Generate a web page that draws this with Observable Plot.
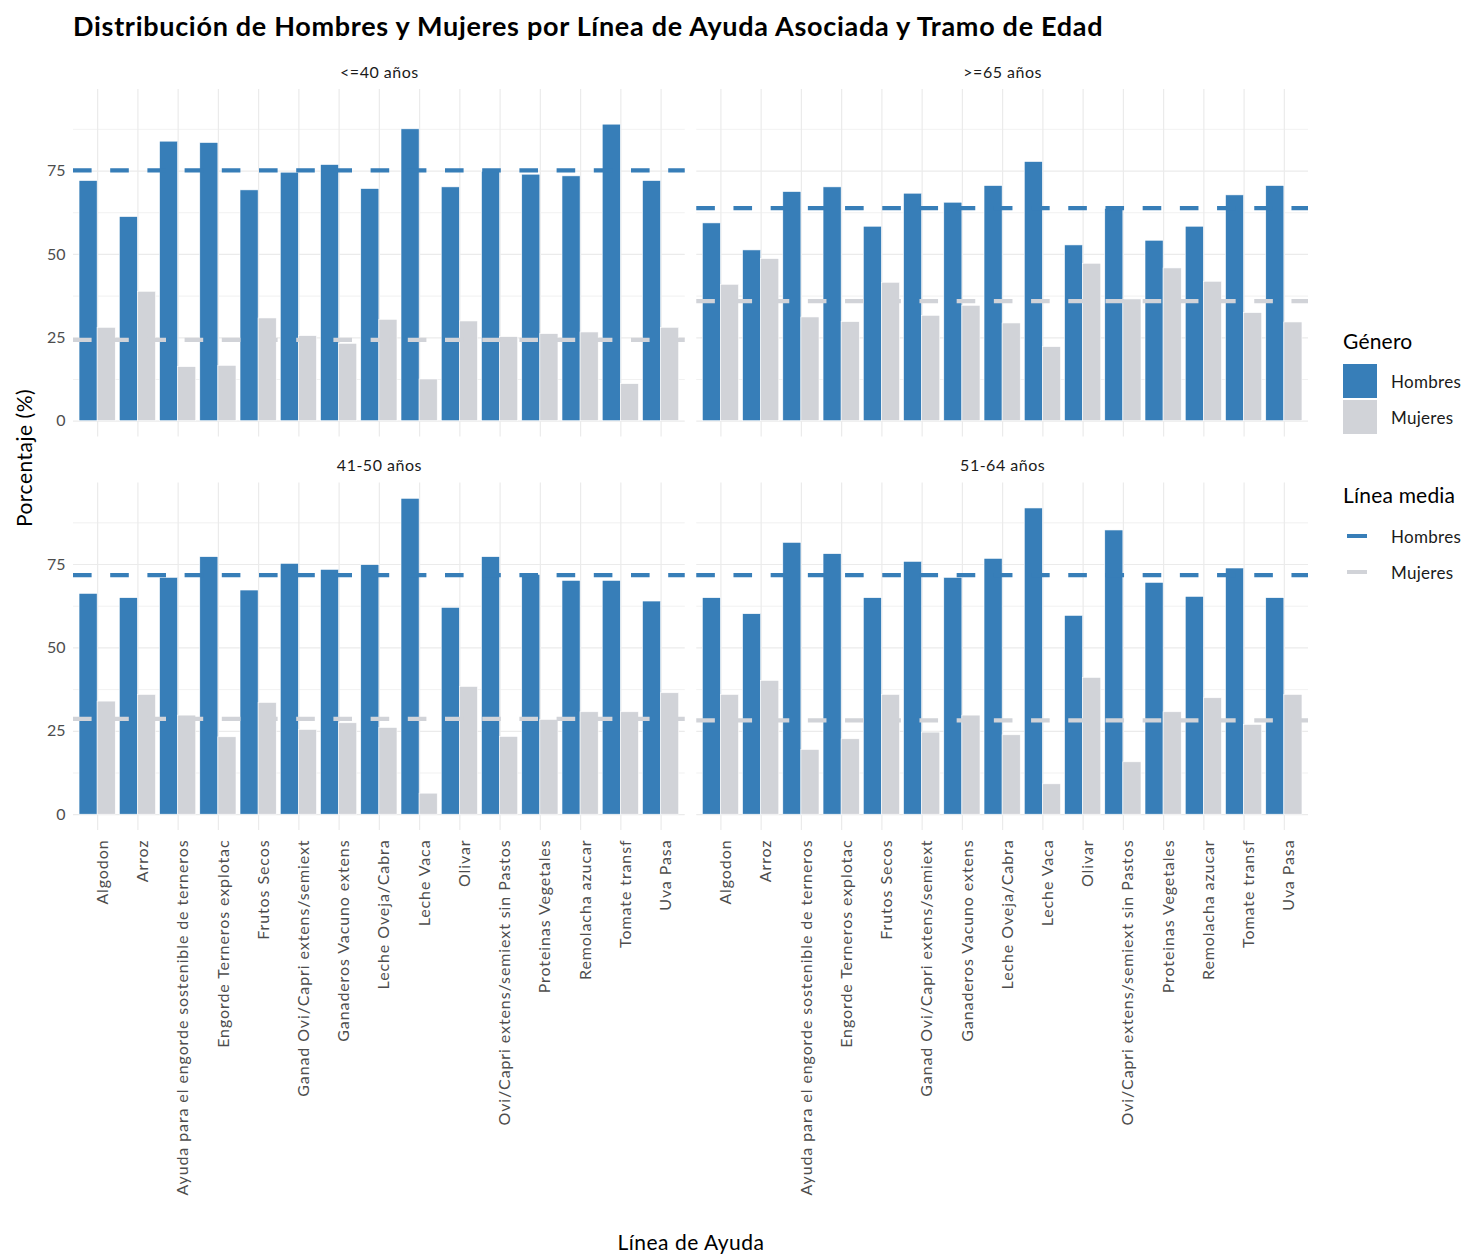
<!DOCTYPE html>
<html>
<head>
<meta charset="utf-8">
<script src="https://cdn.jsdelivr.net/npm/d3@7"></script>
<script src="https://cdn.jsdelivr.net/npm/@observablehq/plot@0.6"></script>
<style>
  body { margin: 0; background: #fff; font-family: Lato, "Noto Sans", sans-serif; }
  #wrap { position: relative; width: 1467px; height: 1256px; overflow: hidden; background: #fff; }
  #title { position: absolute; left: 73px; top: 9px; font-size: 27px; letter-spacing: 0.7px; font-weight: 700; color: #000; white-space: nowrap; }
  #chart { position: absolute; left: 0; top: 0; }
  #chart g[aria-label="x-axis tick label"] text { letter-spacing: 0.9px; }
  #chart g[aria-label="text"] text { letter-spacing: 0.5px; }
  #xlab { position: absolute; left: 691px; top: 1229px; transform: translateX(-50%); font-size: 21px; letter-spacing: 0.5px; color: #000; white-space: nowrap; }
  #ylab { position: absolute; left: 23px; top: 458px; transform: translate(-50%, -50%) rotate(-90deg); font-size: 21px; letter-spacing: 0.5px; color: #000; white-space: nowrap; }
  #legend { position: absolute; left: 1343px; top: 328px; color: #000; }
  .lt { font-size: 21px; margin-bottom: 10px; white-space: nowrap; letter-spacing: 0.2px; }
  .li { display: flex; align-items: center; height: 36px; font-size: 17px; letter-spacing: 0.3px; color: #1a1a1a; white-space: nowrap; }
  .sw { width: 34px; height: 34px; margin-right: 14px; }
  .ln { width: 20px; height: 4px; margin: 0 24px 0 4px; }
</style>
</head>
<body>
<div id="wrap">
  <div id="title">Distribución de Hombres y Mujeres por Línea de Ayuda Asociada y Tramo de Edad</div>
  <div id="chart"></div>
  <div id="xlab">Línea de Ayuda</div>
  <div id="ylab">Porcentaje (%)</div>
  <div id="legend"></div>
</div>
<script>
// ---------- DATA ----------
const categorias = [
  "Algodon", "Arroz", "Ayuda para el engorde sostenible de terneros",
  "Engorde Terneros explotac", "Frutos Secos", "Ganad Ovi/Capri extens/semiext",
  "Ganaderos Vacuno extens", "Leche Oveja/Cabra", "Leche Vaca", "Olivar",
  "Ovi/Capri extens/semiext sin Pastos", "Proteinas Vegetales", "Remolacha azucar",
  "Tomate transf", "Uva Pasa"
];
const tramos = ["<=40 años", ">=65 años", "41-50 años", "51-64 años"];
const columnaTramo = ["izq", "der", "izq", "der"];
const filaTramo = ["arriba", "arriba", "abajo", "abajo"];
const generos = ["Hombres", "Mujeres"];
const coloresGenero = ["#377EB8", "#D1D3D8"];

const hombres_hasta40 = [72.0, 61.2, 83.8, 83.4, 69.2, 74.5, 76.8, 69.6, 87.5, 70.1, 74.8, 73.9, 73.4, 88.9, 72.0];
const mujeres_hasta40 = [28.0, 38.8, 16.2, 16.6, 30.8, 25.5, 23.2, 30.4, 12.5, 29.9, 25.2, 26.1, 26.6, 11.1, 28.0];
const hombres_desde65 = [59.3, 51.2, 68.7, 70.1, 58.3, 68.2, 65.5, 70.5, 77.7, 52.7, 63.6, 54.1, 58.3, 67.7, 70.5];
const mujeres_desde65 = [40.9, 48.6, 31.1, 29.7, 41.5, 31.6, 34.6, 29.3, 22.2, 47.2, 36.5, 45.8, 41.8, 32.4, 29.6];
const hombres_41_50 = [66.2, 64.9, 71.0, 77.2, 67.2, 75.2, 73.4, 74.8, 94.7, 62.0, 77.2, 71.9, 70.1, 70.1, 63.9];
const mujeres_41_50 = [33.9, 35.9, 29.7, 23.2, 33.5, 25.4, 27.4, 26.0, 6.3, 38.3, 23.3, 28.4, 30.7, 30.7, 36.4];
const hombres_51_64 = [64.9, 60.1, 81.5, 78.1, 64.9, 75.8, 71.0, 76.7, 91.8, 59.6, 85.2, 69.5, 65.3, 73.8, 64.9];
const mujeres_51_64 = [35.9, 40.1, 19.4, 22.6, 35.9, 24.6, 29.7, 23.8, 9.1, 41.0, 15.7, 30.7, 34.9, 26.9, 35.9];

const mediaHombres = [75.2, 63.9, 71.8, 71.8];
const mediaMujeres = [24.4, 36.0, 28.7, 28.3];

const yTicks = [0, 25, 50, 75];
const yMinor = [12.5, 37.5, 62.5, 87.5];

// ---------- BUILD TABLES ----------
const hombresPorTramo = [hombres_hasta40, hombres_desde65, hombres_41_50, hombres_51_64];
const mujeresPorTramo = [mujeres_hasta40, mujeres_desde65, mujeres_41_50, mujeres_51_64];

const filas = [];
tramos.forEach((t, k) => {
  categorias.forEach((c, i) => {
    filas.push({tramo: t, col: columnaTramo[k], fila: filaTramo[k], i, categoria: c, genero: "Hombres", valor: hombresPorTramo[k][i]});
    filas.push({tramo: t, col: columnaTramo[k], fila: filaTramo[k], i, categoria: c, genero: "Mujeres", valor: mujeresPorTramo[k][i]});
  });
});
const medias = [];
tramos.forEach((t, k) => {
  medias.push({tramo: t, col: columnaTramo[k], fila: filaTramo[k], genero: "Hombres", valor: mediaHombres[k]});
  medias.push({tramo: t, col: columnaTramo[k], fila: filaTramo[k], genero: "Mujeres", valor: mediaMujeres[k]});
});
const etiquetas = tramos.map((t, k) => ({tramo: t, col: columnaTramo[k], fila: filaTramo[k]}));

const W = 1320, H = 1215;
const half = 0.45;

const chart = Plot.plot({
  width: W,
  height: H,
  marginTop: 89,
  marginLeft: 73,
  marginRight: W - 1308,
  marginBottom: H - 830,
  style: {fontFamily: "Lato, 'Noto Sans', sans-serif", fontSize: "16px", color: "#4d4d4d", background: "transparent", overflow: "visible"},
  fx: {domain: ["izq", "der"], paddingInner: 0.0185, paddingOuter: 0, round: false, axis: null, label: null},
  fy: {domain: ["arriba", "abajo"], paddingInner: 0.1168, paddingOuter: 0, round: false, axis: null, label: null},
  x: {domain: [-0.6, categorias.length - 1 + 0.6], label: null},
  y: {domain: [-4.74, 99.44], ticks: yTicks, tickSize: 0, tickPadding: 8, label: null},
  color: {domain: generos, range: coloresGenero},
  marks: [
    Plot.ruleY(yMinor, {stroke: "#EDEDED", strokeWidth: 0.8}),
    Plot.ruleY(yTicks, {stroke: "#EBEBEB", strokeWidth: 1.2}),
    Plot.ruleX(d3.range(categorias.length), {stroke: "#EBEBEB", strokeWidth: 1.2}),
    Plot.rectY(filas, {
      fx: "col", fy: "fila",
      x1: d => d.genero === "Hombres" ? d.i - half : d.i,
      x2: d => d.genero === "Hombres" ? d.i : d.i + half,
      y1: 0, y2: "valor",
      fill: "genero",
      stroke: "white", strokeWidth: 0.6
    }),
    Plot.ruleY(medias, {
      fx: "col", fy: "fila", y: "valor",
      stroke: "genero", strokeWidth: 4.3, strokeDasharray: "18.6,18.6"
    }),
    Plot.text(etiquetas, {
      fx: "col", fy: "fila", text: "tramo",
      frameAnchor: "top", dy: -23, fill: "#1a1a1a", fontSize: 16
    }),
    Plot.axisX({
      ticks: d3.range(categorias.length),
      tickFormat: i => categorias[i],
      tickRotate: -90,
      tickSize: 0,
      tickPadding: 9,
      dx: 5,
      fontSize: 16,
      label: null
    })
  ]
});
document.getElementById("chart").appendChild(chart);

// ---------- LEGEND ----------
const lg = document.getElementById("legend");
let html = '<div class="lt">Género</div>';
generos.forEach((g, k) => {
  html += `<div class="li"><div class="sw" style="background:${coloresGenero[k]}"></div>${g}</div>`;
});
html += '<div style="height:47px"></div><div class="lt">Línea media</div>';
html += '<div style="height:1px"></div>';
generos.forEach((g, k) => {
  html += `<div class="li"><div class="ln" style="background:${coloresGenero[k]}"></div>${g}</div>`;
});
lg.innerHTML = html;
</script>
</body>
</html>
